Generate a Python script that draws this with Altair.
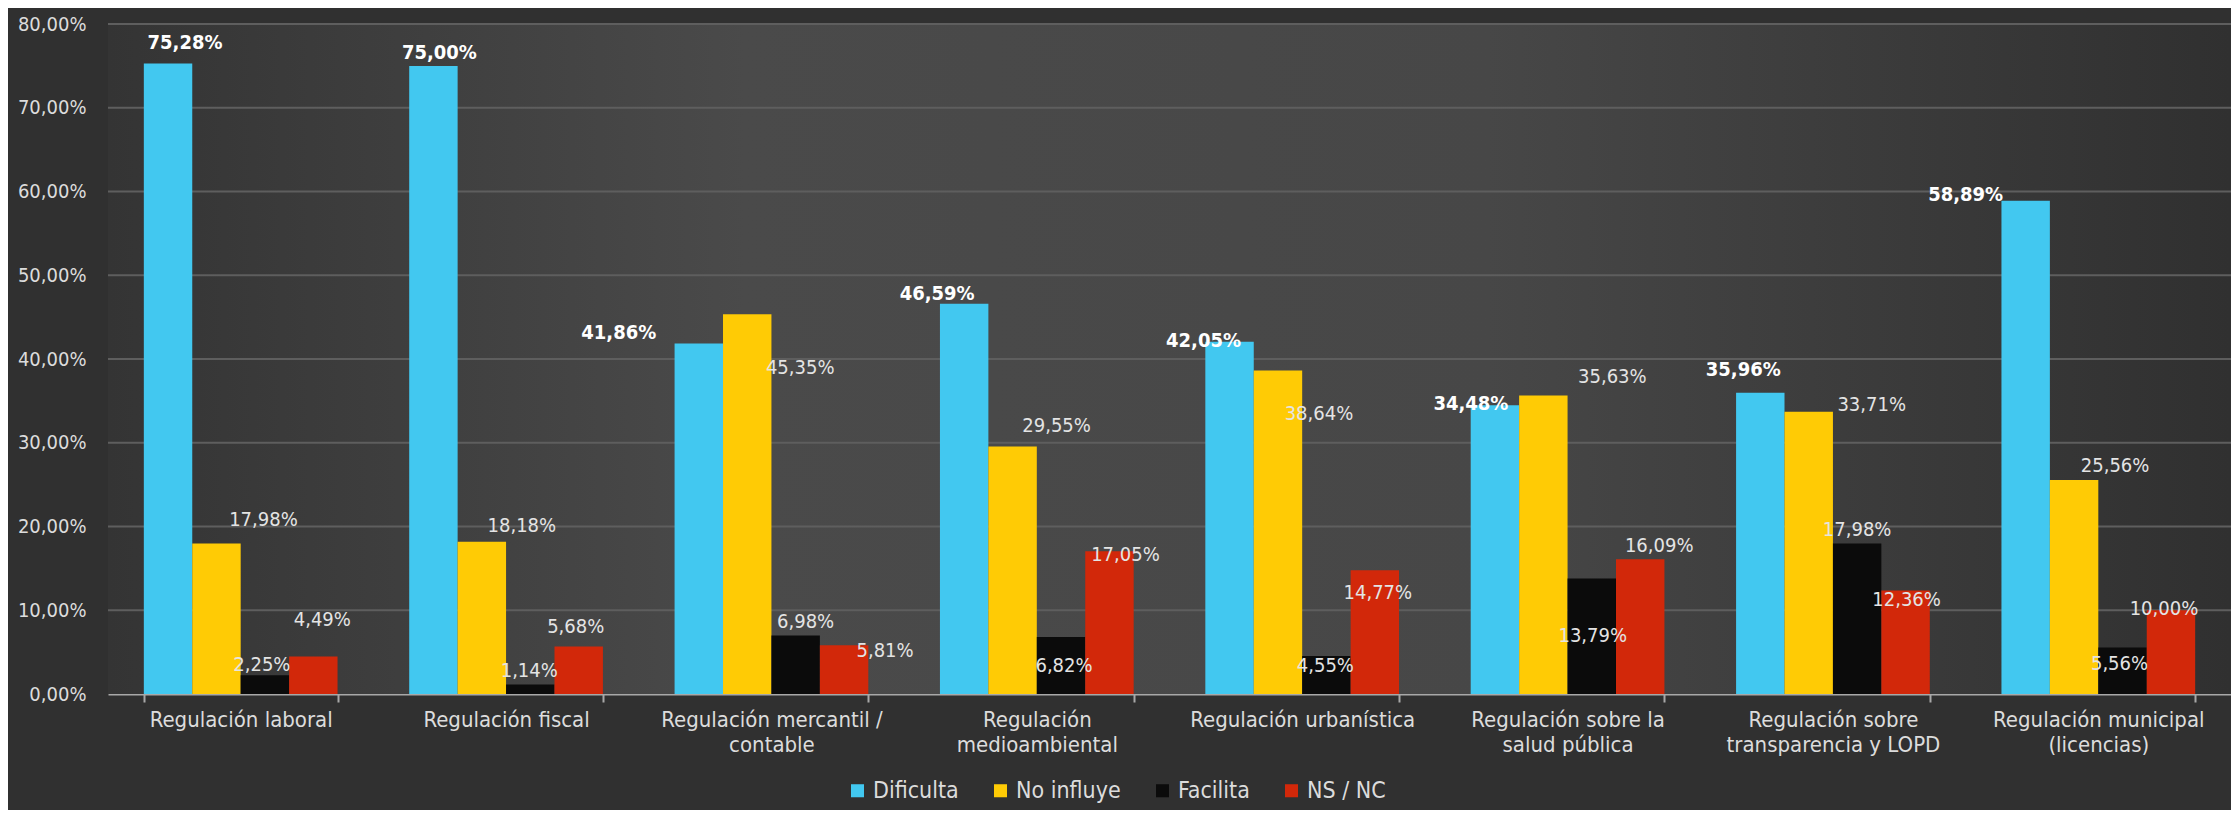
import altair as alt
import pandas as pd

CATEGORIES = [
    "Regulación laboral",
    "Regulación fiscal",
    "Regulación mercantil /|contable",
    "Regulación|medioambiental",
    "Regulación urbanística",
    "Regulación sobre la|salud pública",
    "Regulación sobre|transparencia y LOPD",
    "Regulación municipal|(licencias)",
]
SERIES = ["Dificulta", "No influye", "Facilita", "NS / NC"]

DIFICULTA = [75.28, 75.00, 41.86, 46.59, 42.05, 34.48, 35.96, 58.89]
NO_INFLUYE = [17.98, 18.18, 45.35, 29.55, 38.64, 35.63, 33.71, 25.56]
FACILITA = [2.25, 1.14, 6.98, 6.82, 4.55, 13.79, 17.98, 5.56]
NS_NC = [4.49, 5.68, 5.81, 17.05, 14.77, 16.09, 12.36, 10.00]

Y_TICKS = [0, 10, 20, 30, 40, 50, 60, 70, 80]
GRID_TICKS = [10, 20, 30, 40, 50, 60, 70, 80]

# label nudges (pixels, relative to the top-centre of each bar)
DX_DIFICULTA = [17, 6, -80, -27, -26, -24, -17, -60]
DY_DIFICULTA = [-21, -13, -10, -10, -1, -1, -23, -6]
DX_NO_INFLUYE = [47, 40, 53, 44, 41, 69, 63, 41]
DY_NO_INFLUYE = [-23, -16, 54, -21, 44, -19, -7, -14]
DX_FACILITA = [-3, -1, 10, 3, -1, 1, 0, -3]
DY_FACILITA = [-10, -13, -14, 29, 10, 57, -13, 17]
DX_NS_NC = [9, -3, 41, 16, 3, 19, 1, -7]
DY_NS_NC = [-36, -19, 6, 4, 23, -13, 10, -1]

COLORS = ["#42c8f0", "#ffcb05", "#0b0b0b", "#d2280a"]
FONT = "DejaVu Sans Condensed"

rows = []
for s, vals, dxs, dys in [
    ("Dificulta", DIFICULTA, DX_DIFICULTA, DY_DIFICULTA),
    ("No influye", NO_INFLUYE, DX_NO_INFLUYE, DY_NO_INFLUYE),
    ("Facilita", FACILITA, DX_FACILITA, DY_FACILITA),
    ("NS / NC", NS_NC, DX_NS_NC, DY_NS_NC),
]:
    for c, v, dx, dy in zip(CATEGORIES, vals, dxs, dys):
        rows.append({"category": c, "series": s, "value": v, "dx": dx, "dy": dy})
df = pd.DataFrame(rows)

W, H = 2123, 670

x_enc = alt.X(
    "category:N",
    sort=CATEGORIES,
    scale=alt.Scale(paddingInner=0.27, paddingOuter=0.135),
    axis=alt.Axis(
        title=None,
        labelAngle=0,
        labelExpr="split(datum.label, '|')",
        labelLimit=400,
        tickBand="extent",
        ticks=True,
        tickSize=8,
        tickColor="#a8a8a8",
        tickWidth=2,
        domainColor="#a8a8a8",
        domainWidth=2,
        labelColor="#dcdcdc",
        labelFontSize=22,
        labelFont=FONT,
        labelPadding=7,
        labelLineHeight=25,
        labelBaseline="top",
        grid=False,
    ),
)
y_enc = alt.Y(
    "value:Q",
    scale=alt.Scale(domain=[0, 80], nice=False, zero=True),
    axis=alt.Axis(
        title=None,
        values=Y_TICKS,
        labelExpr="replace(format(datum.value, '.2f'), '.', ',') + '%'",
        grid=False,
        ticks=False,
        domain=False,
        labelPadding=22,
        labelColor="#dcdcdc",
        labelFontSize=20,
        labelFont=FONT,
    ),
)
xoff = alt.XOffset("series:N", sort=SERIES, scale=alt.Scale(paddingInner=0, paddingOuter=0))

bg = (
    alt.Chart(pd.DataFrame({"k": [0]}))
    .mark_rect(
        color=alt.LinearGradient(
            gradient="linear",
            stops=[
                alt.GradientStop(offset=0, color="#343434"),
                alt.GradientStop(offset=0.3, color="#4a4a4a"),
                alt.GradientStop(offset=0.65, color="#474747"),
                alt.GradientStop(offset=1, color="#303030"),
            ],
            x1=0, x2=1, y1=0, y2=0,
        )
    )
    .encode(x=alt.value(0), x2=alt.value(W), y=alt.value(0), y2=alt.value(H))
)

grid = (
    alt.Chart(pd.DataFrame({"value": GRID_TICKS}))
    .mark_rule(color="#5e5e5e", strokeWidth=2)
    .encode(y=alt.Y("value:Q"), x=alt.value(0), x2=alt.value(W))
)

bars = (
    alt.Chart(df)
    .mark_bar()
    .encode(
        x=x_enc,
        xOffset=xoff,
        y=y_enc,
        color=alt.Color(
            "series:N",
            sort=SERIES,
            scale=alt.Scale(domain=SERIES, range=COLORS),
            legend=alt.Legend(
                title=None,
                orient="none",
                direction="horizontal",
                legendX=738,
                legendY=755,
                symbolType="square",
                symbolSize=170,
                symbolStrokeWidth=0,
                labelColor="#dcdcdc",
                labelFontSize=23,
                labelFont=FONT,
                labelOffset=4,
                columnPadding=30,
            ),
        ),
    )
)

label_expr = "replace(format(datum.value, '.2f'), '.', ',') + '%'"

labels_bold = (
    alt.Chart(df)
    .transform_filter("datum.series == 'Dificulta'")
    .transform_calculate(label=label_expr)
    .mark_text(
        font=FONT, fontSize=20, fontWeight="bold", color="#ffffff",
        align="center", baseline="middle",
        dx=alt.expr("datum.dx"), dy=alt.expr("datum.dy"),
    )
    .encode(x=alt.X("category:N", sort=CATEGORIES), xOffset=xoff, y=alt.Y("value:Q"), text="label:N")
)

labels_reg = (
    alt.Chart(df)
    .transform_filter("datum.series != 'Dificulta'")
    .transform_calculate(label=label_expr)
    .mark_text(
        font=FONT, fontSize=20, color="#e4e4e4",
        align="center", baseline="middle",
        dx=alt.expr("datum.dx"), dy=alt.expr("datum.dy"),
    )
    .encode(x=alt.X("category:N", sort=CATEGORIES), xOffset=xoff, y=alt.Y("value:Q"), text="label:N")
)

chart = (
    alt.layer(bg, grid, bars, labels_bold, labels_reg)
    .properties(
        width=W,
        height=H,
        background="#303030",
        padding={"left": 100, "top": 16, "right": 0, "bottom": 116},
        autosize=alt.AutoSizeParams(type="none"),
    )
    .configure_view(stroke=None)
)

chart.save("out.html", embed_options={"renderer": "svg", "actions": False})
